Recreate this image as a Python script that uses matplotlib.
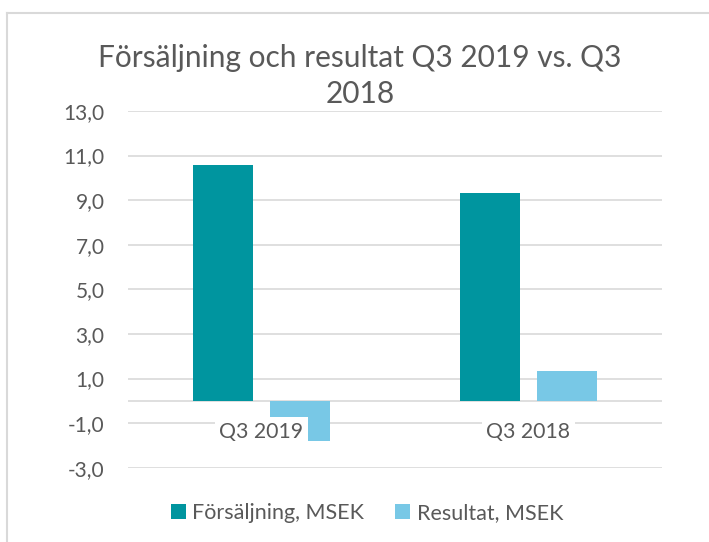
import numpy as np
import matplotlib.pyplot as plt
from matplotlib.lines import Line2D

categories = ['Q3 2019', 'Q3 2018']
forsaljning = [10.6, 9.3]
resultat = [-1.8, 1.34]
series_names = ['Försäljning, MSEK', 'Resultat, MSEK']
yticks = [-3, -1, 1, 3, 5, 7, 9, 11, 13]

teal = '#00959F'
lightblue = '#78C8E6'
grid_col = '#d9d9d9'
text_col = '#595959'

plt.rcParams['font.family'] = ['Lato', 'DejaVu Sans']

fig = plt.figure(figsize=(7.09, 5.42), dpi=100)
ax = fig.add_axes([128 / 709, 1 - 467.7 / 542, (662 - 128) / 709, (467.7 - 111) / 542])

x = np.arange(len(categories))
w = 0.225
off = w / 2 + 0.03
ax.bar(x - off, forsaljning, w, color=teal, label=series_names[0], zorder=3)
ax.bar(x + off, resultat, w, color=lightblue, label=series_names[1], zorder=3)

ax.set_xlim(-0.5, 1.5)
ax.set_ylim(-3, 13)
ax.set_yticks(yticks)
ax.set_yticklabels(['{:.1f}'.format(v).replace('.', ',') for v in yticks])
ax.tick_params(axis='y', length=0, pad=17, labelsize=15, labelcolor=text_col)
ax.set_xticks([])
for s in ax.spines.values():
    s.set_visible(False)
for v in yticks:
    ax.axhline(v, color=grid_col, lw=1.2, zorder=0.5)
ax.axhline(0, color=grid_col, lw=1.2, zorder=0.6)

# category labels just under the zero line; the white box sits on top of bars and grid
for xi, lab in zip(x, categories):
    ax.annotate(lab, (xi, 0), xytext=(0, -15), textcoords='offset points',
                ha='center', va='top', fontsize=15.3, color=text_col, zorder=4,
                bbox=dict(boxstyle='square,pad=0.2', fc='white', ec='none'))

fig.text(360 / 709, 1 - 76 / 542, 'Försäljning och resultat Q3 2019 vs. Q3\n2018',
         ha='center', va='center', fontsize=21.5, color=text_col, linespacing=1.36)

fig.legend(loc='center', bbox_to_anchor=(367 / 709, 1 - 513 / 542), ncol=2, frameon=False,
           fontsize=15.5, labelcolor=text_col, handlelength=0.7, handleheight=0.7,
           handletextpad=0.3, columnspacing=1.45)

# chart area border (cropped on right and bottom)
fig.add_artist(Line2D([6.5 / 709, 6.5 / 709], [0, 1 - 13 / 542], color=grid_col, lw=1.5))
fig.add_artist(Line2D([6.5 / 709, 1], [1 - 13 / 542, 1 - 13 / 542], color=grid_col, lw=1.5))

fig.savefig('out.png', dpi=100)
